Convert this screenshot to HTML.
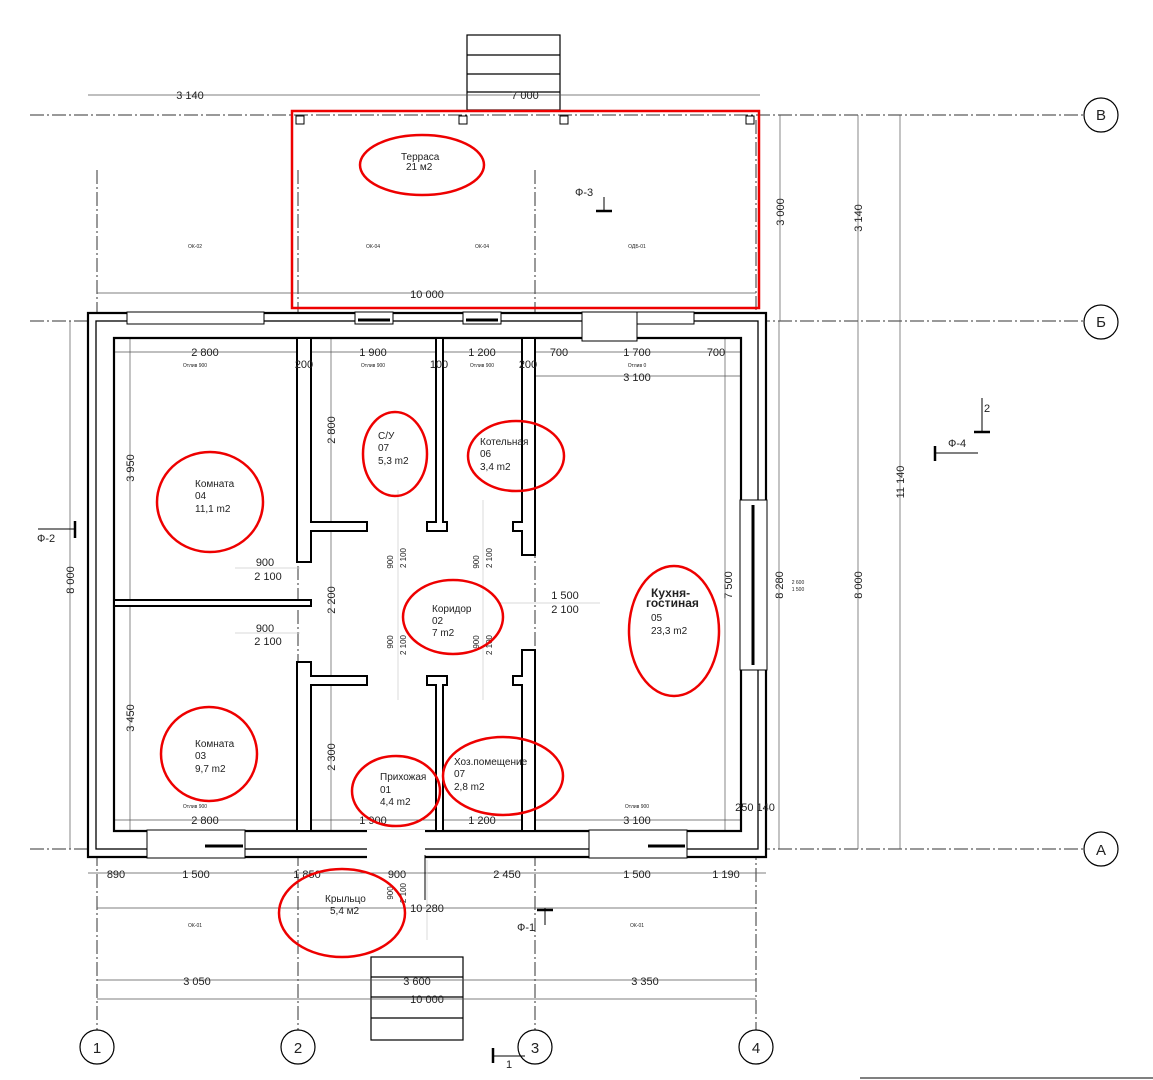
<!DOCTYPE html>
<html><head><meta charset="utf-8"><style>
html,body{margin:0;padding:0;background:#fff}
svg{display:block}
text{font-family:"Liberation Sans",sans-serif;fill:#222}
.d{font-size:11px}
.s{font-size:5px}
.l{font-size:10px}
.ax{stroke:#333;stroke-width:1;stroke-dasharray:14 3 2 3;fill:none}
.dim{stroke:#555;stroke-width:0.7;fill:none}
.g{stroke:#ccc;stroke-width:0.7;fill:none}
.w{fill:#fff;stroke:#000;stroke-width:2}
.r{fill:none;stroke:#e00;stroke-width:2.5}
</style></head><body>
<svg width="1153" height="1080" viewBox="0 0 1153 1080" xmlns="http://www.w3.org/2000/svg">
<!-- stairs first -->
<g stroke="#000" stroke-width="1.2" fill="#fff">
<rect x="467" y="35" width="93" height="75"/>
<line x1="467" y1="55" x2="560" y2="55"/><line x1="467" y1="74" x2="560" y2="74"/><line x1="467" y1="92" x2="560" y2="92"/>
<rect x="371" y="957" width="92" height="83"/>
<line x1="371" y1="977" x2="463" y2="977"/><line x1="371" y1="997" x2="463" y2="997"/><line x1="371" y1="1018" x2="463" y2="1018"/>
</g>
<!-- axes -->
<line class="ax" x1="30" y1="115" x2="1084" y2="115"/>
<line class="ax" x1="30" y1="321" x2="1084" y2="321"/>
<line class="ax" x1="30" y1="849" x2="1084" y2="849"/>
<line class="ax" x1="97" y1="170" x2="97" y2="1030"/>
<line class="ax" x1="298" y1="170" x2="298" y2="1030"/>
<line class="ax" x1="535" y1="170" x2="535" y2="1030"/>
<line class="ax" x1="756" y1="120" x2="756" y2="1030"/>
<g fill="#fff" stroke="#000" stroke-width="1.2">
<circle cx="1101" cy="115" r="17"/><circle cx="1101" cy="322" r="17"/><circle cx="1101" cy="849" r="17"/>
<circle cx="97" cy="1047" r="17"/><circle cx="298" cy="1047" r="17"/><circle cx="535" cy="1047" r="17"/><circle cx="756" cy="1047" r="17"/>
</g>
<g font-size="15" text-anchor="middle">
<text x="1101" y="120">В</text><text x="1101" y="327">Б</text><text x="1101" y="855">А</text>
<text x="97" y="1053">1</text><text x="298" y="1053">2</text><text x="535" y="1053">3</text><text x="756" y="1053">4</text>
</g>
<g class="dim">
<line x1="88" y1="95" x2="760" y2="95"/>
<line x1="97" y1="293" x2="756" y2="293"/>
<line x1="780" y1="115" x2="780" y2="321"/>
<line x1="858" y1="115" x2="858" y2="849"/>
<line x1="900" y1="115" x2="900" y2="849"/>
<line x1="779" y1="321" x2="779" y2="849"/>
<line x1="70" y1="321" x2="70" y2="849"/>
<line x1="88" y1="873" x2="766" y2="873"/>
<line x1="97" y1="908" x2="756" y2="908"/>
<line x1="97" y1="980" x2="756" y2="980"/>
<line x1="97" y1="999" x2="756" y2="999"/>
<line x1="114" y1="352" x2="741" y2="352"/>
<line x1="535" y1="376" x2="741" y2="376"/>
<line x1="114" y1="820" x2="741" y2="820"/>
<line x1="130" y1="338" x2="130" y2="600"/>
<line x1="130" y1="606" x2="130" y2="831"/>
<line x1="331" y1="338" x2="331" y2="522"/>
<line x1="331" y1="531" x2="331" y2="676"/>
<line x1="331" y1="676" x2="331" y2="831"/>
<line x1="725" y1="338" x2="725" y2="831"/>
</g>
<g class="g">
<line x1="235" y1="568" x2="300" y2="568"/><line x1="235" y1="633" x2="300" y2="633"/>
<line x1="500" y1="603" x2="600" y2="603"/>
<line x1="398" y1="490" x2="398" y2="700"/><line x1="483" y1="500" x2="483" y2="700"/>
<line x1="427" y1="860" x2="427" y2="940"/>
</g>
<!-- terrace -->
<rect x="292" y="111" width="467" height="197" class="r" stroke-width="3"/>
<g fill="#fff" stroke="#000" stroke-width="1">
<rect x="296" y="116" width="8" height="8"/><rect x="459" y="116" width="8" height="8"/><rect x="560" y="116" width="8" height="8"/><rect x="746" y="116" width="8" height="8"/>
</g>
<!-- outer walls -->
<path d="M88 313H766V857H88Z M114 338V831H741V338Z" fill="#fff" stroke="#000" stroke-width="2.2" fill-rule="evenodd"/>
<rect x="96" y="321" width="662" height="528" fill="none" stroke="#000" stroke-width="1.3"/>
<g fill="#fff" stroke="#000" stroke-width="1">
<rect x="127" y="312" width="137" height="12"/>
<rect x="355" y="312" width="38" height="12"/><rect x="463" y="312" width="38" height="12"/>
<rect x="582" y="312" width="112" height="12"/>
<rect x="582" y="312" width="55" height="29"/>
<rect x="147" y="830" width="98" height="28"/><rect x="589" y="830" width="98" height="28"/>
<rect x="740" y="500" width="27" height="170"/>
</g>
<g stroke="#000" stroke-width="3">
<line x1="358" y1="320" x2="390" y2="320"/><line x1="466" y1="320" x2="498" y2="320"/>
<line x1="205" y1="846" x2="243" y2="846"/><line x1="648" y1="846" x2="685" y2="846"/>
<line x1="753" y1="505" x2="753" y2="665"/>
</g>
<rect x="367" y="830" width="58" height="30" fill="#fff"/>
<line x1="425" y1="855" x2="425" y2="900" stroke="#000"/>
<g class="w">
<path d="M297 338H311V522H367V531H311V562H297Z"/>
<path d="M297 662H311V676H367V685H311V831H297Z"/>
<rect x="114" y="600" width="197" height="6"/>
<path d="M436 338H443V522H447V531H427V522H436Z"/>
<path d="M427 676H447V685H443V831H436V685H427Z"/>
<path d="M522 338H535V555H522V531H513V522H522Z"/>
<path d="M513 676H522V650H535V831H522V685H513Z"/>
</g>
<!-- dimension labels -->
<g class="d" text-anchor="middle">
<text x="190" y="99">3 140</text><text x="525" y="99">7 000</text>
<text x="427" y="298">10 000</text>
<text x="205" y="356">2 800</text><text x="373" y="356">1 900</text><text x="482" y="356">1 200</text>
<text x="304" y="368">200</text><text x="439" y="368">100</text><text x="528" y="368">200</text>
<text x="559" y="356">700</text><text x="637" y="356">1 700</text><text x="716" y="356">700</text>
<text x="637" y="381">3 100</text>
<text x="265" y="566">900</text><text x="268" y="580">2 100</text>
<text x="265" y="632">900</text><text x="268" y="645">2 100</text>
<text x="565" y="599">1 500</text><text x="565" y="613">2 100</text>
<text x="205" y="824">2 800</text><text x="373" y="824">1 900</text><text x="482" y="824">1 200</text><text x="637" y="824">3 100</text>
<text x="755" y="811">250  140</text>
<text x="116" y="878">890</text><text x="196" y="878">1 500</text><text x="307" y="878">1 850</text><text x="397" y="878">900</text><text x="507" y="878">2 450</text><text x="637" y="878">1 500</text><text x="726" y="878">1 190</text>
<text x="427" y="912">10 280</text>
<text x="197" y="985">3 050</text><text x="417" y="985">3 600</text><text x="645" y="985">3 350</text>
<text x="427" y="1003">10 000</text>
</g>
<g class="d" text-anchor="middle">
<text transform="translate(784,212) rotate(-90)">3 000</text>
<text transform="translate(862,218) rotate(-90)">3 140</text>
<text transform="translate(904,482) rotate(-90)">11 140</text>
<text transform="translate(862,585) rotate(-90)">8 000</text>
<text transform="translate(783,585) rotate(-90)">8 280</text>
<text transform="translate(732,585) rotate(-90)">7 500</text>
<text transform="translate(74,580) rotate(-90)">8 000</text>
<text transform="translate(134,468) rotate(-90)">3 950</text>
<text transform="translate(134,718) rotate(-90)">3 450</text>
<text transform="translate(335,430) rotate(-90)">2 800</text>
<text transform="translate(335,600) rotate(-90)">2 200</text>
<text transform="translate(335,757) rotate(-90)">2 300</text>
</g>
<g font-size="8" text-anchor="middle">
<text transform="translate(393,562) rotate(-90)">900</text><text transform="translate(406,558) rotate(-90)">2 100</text>
<text transform="translate(479,562) rotate(-90)">900</text><text transform="translate(492,558) rotate(-90)">2 100</text>
<text transform="translate(393,642) rotate(-90)">900</text><text transform="translate(406,645) rotate(-90)">2 100</text>
<text transform="translate(479,642) rotate(-90)">900</text><text transform="translate(492,645) rotate(-90)">2 100</text>
<text transform="translate(393,893) rotate(-90)">900</text><text transform="translate(406,893) rotate(-90)">2 100</text>
</g>
<g class="s" text-anchor="middle">
<text x="195" y="248">ОК-02</text><text x="373" y="248">ОК-04</text><text x="482" y="248">ОК-04</text><text x="637" y="248">ОДБ-01</text>
<text x="195" y="367">Отлив 900</text><text x="373" y="367">Отлив 900</text><text x="482" y="367">Отлив 900</text><text x="637" y="367">Отлив 0</text>
<text x="195" y="808">Отлив 900</text><text x="637" y="808">Отлив 900</text>
<text x="195" y="927">ОК-01</text><text x="637" y="927">ОК-01</text>
<text x="798" y="584">2 600</text><text x="798" y="591">1 500</text>
</g>
<g class="r">
<ellipse cx="422" cy="165" rx="62" ry="30"/>
<ellipse cx="395" cy="454" rx="32" ry="42"/>
<ellipse cx="516" cy="456" rx="48" ry="35"/>
<ellipse cx="210" cy="502" rx="53" ry="50"/>
<ellipse cx="453" cy="617" rx="50" ry="37"/>
<ellipse cx="674" cy="631" rx="45" ry="65"/>
<ellipse cx="209" cy="754" rx="48" ry="47"/>
<ellipse cx="396" cy="791" rx="44" ry="35"/>
<ellipse cx="503" cy="776" rx="60" ry="39"/>
<ellipse cx="342" cy="913" rx="63" ry="44"/>
</g>
<g class="l">
<text x="401" y="160">Терраса</text><text x="406" y="170">21 м2</text>
<text x="378" y="439">С/У</text><text x="378" y="451">07</text><text x="378" y="464">5,3 m2</text>
<text x="480" y="445">Котельная</text><text x="480" y="457">06</text><text x="480" y="470">3,4 m2</text>
<text x="195" y="487">Комната</text><text x="195" y="499">04</text><text x="195" y="512">11,1 m2</text>
<text x="432" y="612">Коридор</text><text x="432" y="624">02</text><text x="432" y="636">7 m2</text>
<text x="195" y="747">Комната</text><text x="195" y="759">03</text><text x="195" y="772">9,7 m2</text>
<text x="380" y="780">Прихожая</text><text x="380" y="793">01</text><text x="380" y="805">4,4 m2</text>
<text x="454" y="765">Хоз.помещение</text><text x="454" y="777">07</text><text x="454" y="790">2,8 m2</text>
<text x="325" y="902">Крыльцо</text><text x="330" y="914">5,4 м2</text>
<text x="651" y="621">05</text><text x="651" y="634">23,3 m2</text>
</g>
<text x="651" y="597" font-size="12" font-weight="bold">Кухня-</text><text x="646" y="607" font-size="12" font-weight="bold">гостиная</text>
<g stroke="#000" stroke-width="1" fill="none">
<line x1="604" y1="197" x2="604" y2="211"/><line x1="596" y1="211" x2="612" y2="211" stroke-width="2.5"/>
<line x1="75" y1="521" x2="75" y2="538" stroke-width="2.5"/><line x1="38" y1="529" x2="75" y2="529"/>
<line x1="935" y1="446" x2="935" y2="461" stroke-width="2.5"/><line x1="935" y1="453" x2="978" y2="453"/>
<line x1="982" y1="398" x2="982" y2="432"/><line x1="974" y1="432" x2="990" y2="432" stroke-width="2.5"/>
<line x1="545" y1="908" x2="545" y2="925"/><line x1="537" y1="910" x2="553" y2="910" stroke-width="2.5"/>
<line x1="493" y1="1048" x2="493" y2="1063" stroke-width="2.5"/><line x1="493" y1="1056" x2="525" y2="1056"/>
<line x1="860" y1="1078" x2="1153" y2="1078"/>
</g>
<g class="d">
<text x="575" y="196">Ф-3</text><text x="37" y="542">Ф-2</text><text x="948" y="447">Ф-4</text>
<text x="984" y="412">2</text><text x="517" y="931">Ф-1</text><text x="506" y="1068">1</text>
</g>
</svg>
</body></html>
